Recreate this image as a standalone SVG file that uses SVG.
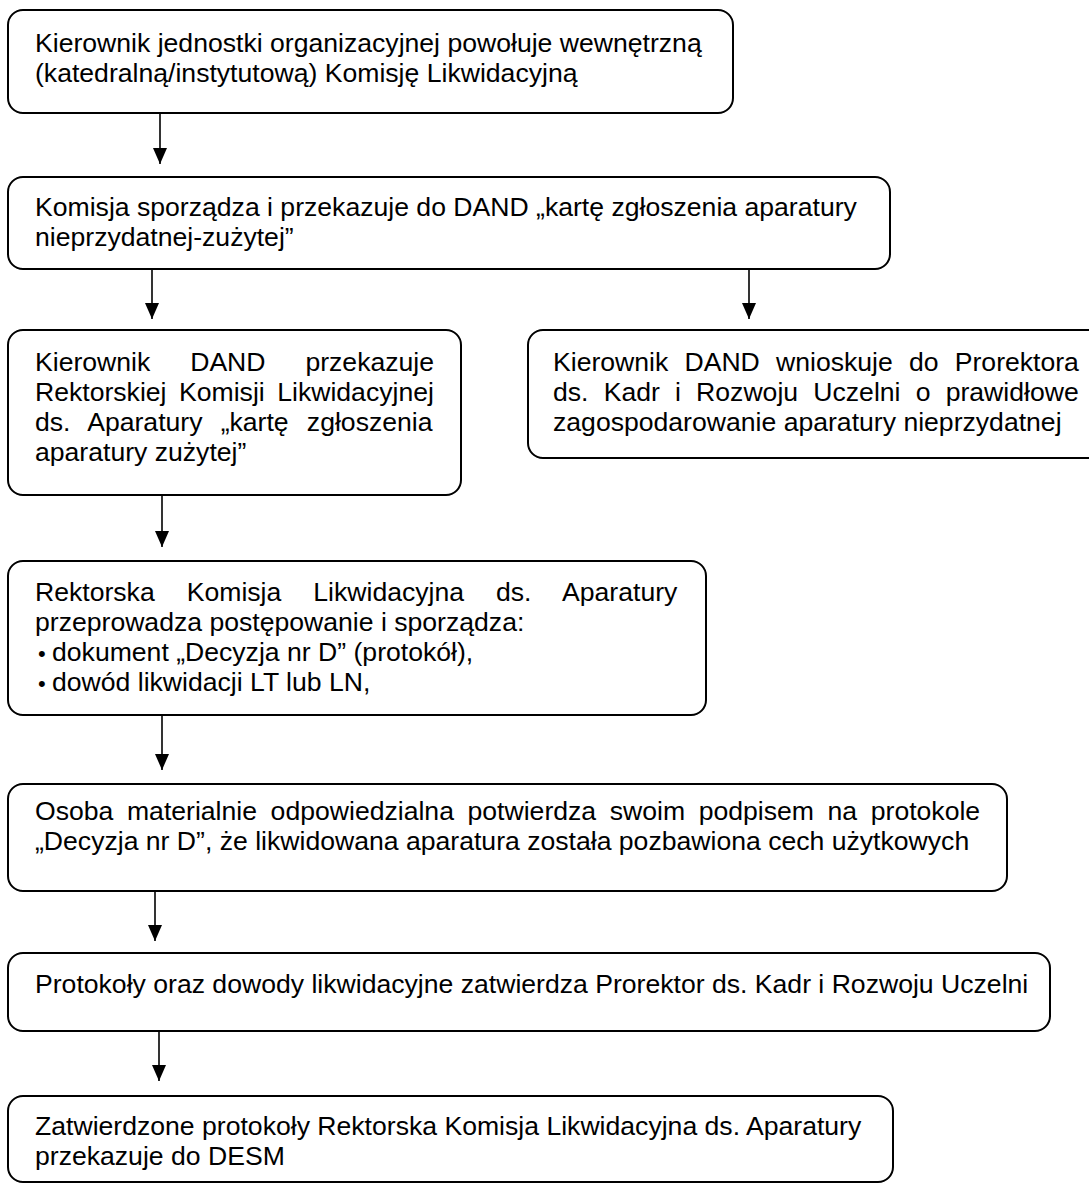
<svg xmlns="http://www.w3.org/2000/svg" width="1089" height="1184" viewBox="0 0 1089 1184">
<defs>
<marker id="ah" viewBox="0 0 16 14" refX="16" refY="7" markerWidth="16" markerHeight="14" markerUnits="userSpaceOnUse" orient="auto">
<path d="M0,0 L16,7 L0,14 Z" fill="#000"/>
</marker>
<style>
.box{fill:#fff;stroke:#000;stroke-width:2}
.t{font-family:"Liberation Sans",Arial,sans-serif;font-size:26.6px;fill:#000}
.b{font-size:22px}
.c{stroke:#000;stroke-width:1.6;fill:none}
</style>
</defs>
<rect width="1089" height="1184" fill="#fff"/>
<g id="connectors">
<line class="c" x1="160" y1="113" x2="160" y2="164" marker-end="url(#ah)"/>
<line class="c" x1="152" y1="269" x2="152" y2="319" marker-end="url(#ah)"/>
<line class="c" x1="749" y1="269" x2="749" y2="319" marker-end="url(#ah)"/>
<line class="c" x1="162" y1="495" x2="162" y2="547" marker-end="url(#ah)"/>
<line class="c" x1="162" y1="715" x2="162" y2="770" marker-end="url(#ah)"/>
<line class="c" x1="155" y1="891" x2="155" y2="941" marker-end="url(#ah)"/>
<line class="c" x1="159" y1="1031" x2="159" y2="1081" marker-end="url(#ah)"/>
</g>
<g id="n1"><rect class="box" x="8" y="10" width="725" height="103" rx="15"/>
<text class="t" x="35" y="52">Kierownik jednostki organizacyjnej powołuje wewnętrzną</text>
<text class="t" x="35" y="82">(katedralną/instytutową) Komisję Likwidacyjną</text></g>
<g id="n2"><rect class="box" x="8" y="177" width="882" height="92" rx="15"/>
<text class="t" x="35" y="216">Komisja sporządza i przekazuje do DAND „kartę zgłoszenia aparatury</text>
<text class="t" x="35" y="246">nieprzydatnej-zużytej”</text></g>
<g id="n3"><rect class="box" x="8" y="330" width="453" height="165" rx="15"/>
<text class="t" x="35" y="371" word-spacing="32.5">Kierownik DAND przekazuje</text>
<text class="t" x="35" y="401" word-spacing="5.1">Rektorskiej Komisji Likwidacyjnej</text>
<text class="t" x="35" y="431" word-spacing="10.8">ds. Aparatury „kartę zgłoszenia</text>
<text class="t" x="35" y="461">aparatury zużytej”</text></g>
<g id="n4"><rect class="box" x="528" y="330" width="580" height="128" rx="15"/>
<text class="t" x="553" y="371" word-spacing="8.8">Kierownik DAND wnioskuje do Prorektora</text>
<text class="t" x="553" y="401" word-spacing="7.8">ds. Kadr i Rozwoju Uczelni o prawidłowe</text>
<text class="t" x="553" y="431">zagospodarowanie aparatury nieprzydatnej</text></g>
<g id="n5"><rect class="box" x="8" y="561" width="698" height="154" rx="15"/>
<text class="t" x="35" y="601" word-spacing="24.6">Rektorska Komisja Likwidacyjna ds. Aparatury</text>
<text class="t" x="35" y="631">przeprowadza postępowanie i sporządza:</text>
<text class="t" y="661"><tspan class="b" x="38">•</tspan><tspan x="52">dokument „Decyzja nr D” (protokół),</tspan></text>
<text class="t" y="691"><tspan class="b" x="38">•</tspan><tspan x="52">dowód likwidacji LT lub LN,</tspan></text></g>
<g id="n6"><rect class="box" x="8" y="784" width="999" height="107" rx="15"/>
<text class="t" x="35" y="820" word-spacing="6.2">Osoba materialnie odpowiedzialna potwierdza swoim podpisem na protokole</text>
<text class="t" x="35" y="850">„Decyzja nr D”, że likwidowana aparatura została pozbawiona cech użytkowych</text></g>
<g id="n7"><rect class="box" x="8" y="953" width="1042" height="78" rx="15"/>
<text class="t" x="35" y="993">Protokoły oraz dowody likwidacyjne zatwierdza Prorektor ds. Kadr i Rozwoju Uczelni</text></g>
<g id="n8"><rect class="box" x="8" y="1096" width="885" height="86" rx="15"/>
<text class="t" x="35" y="1135">Zatwierdzone protokoły Rektorska Komisja Likwidacyjna ds. Aparatury</text>
<text class="t" x="35" y="1165">przekazuje do DESM</text></g>
</svg>
